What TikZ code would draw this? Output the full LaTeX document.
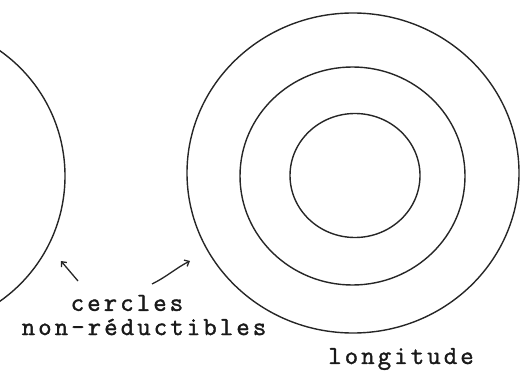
\documentclass[tikz,border=0pt]{standalone}
\usepackage{fontspec}
\newfontfamily\typewriter[LetterSpace=12,FakeBold=1.5]{Latin Modern Mono}
\usetikzlibrary{arrows.meta}
\tikzset{
  ring/.style={draw=black!85, line width=1.4pt},
  lbl/.style={inner sep=0pt, font=\typewriter\fontsize{26}{28}\selectfont, text=black!90},
  pointer/.style={draw=black!85, line width=1.3pt, -{Straight Barb[length=4pt,width=7pt]}}
}
\begin{document}
\begin{tikzpicture}[x=1pt,y=-1pt]
\useasboundingbox (0,0) rectangle (529,379);
\clip (0,0) rectangle (529,379);
% left (partial) circle
\draw[ring] (-88,176) circle (153);
% concentric circles
\draw[ring] (353,173) ellipse [x radius=166, y radius=160];
\draw[ring] (352.5,176) ellipse [x radius=112.5, y radius=109];
\draw[ring] (355,175.5) ellipse [x radius=65, y radius=62];
% labels
\node[lbl] (c1) at (127,303) {cercles};
\node[lbl] (c2) at (144,327) {non-réductibles};
\node[lbl] (lon) at (401,359) {longitude};
% pointers
\coordinate (a1s) at (78,281);
\coordinate (a1e) at (61,261);
\coordinate (a2s) at (152,284);
\coordinate (a2e) at (190,261);
\draw[pointer] (a1s) -- (a1e);
\draw[pointer] (a2s) .. controls (168,276) and (176,268) .. (a2e);
\end{tikzpicture}
\end{document}
